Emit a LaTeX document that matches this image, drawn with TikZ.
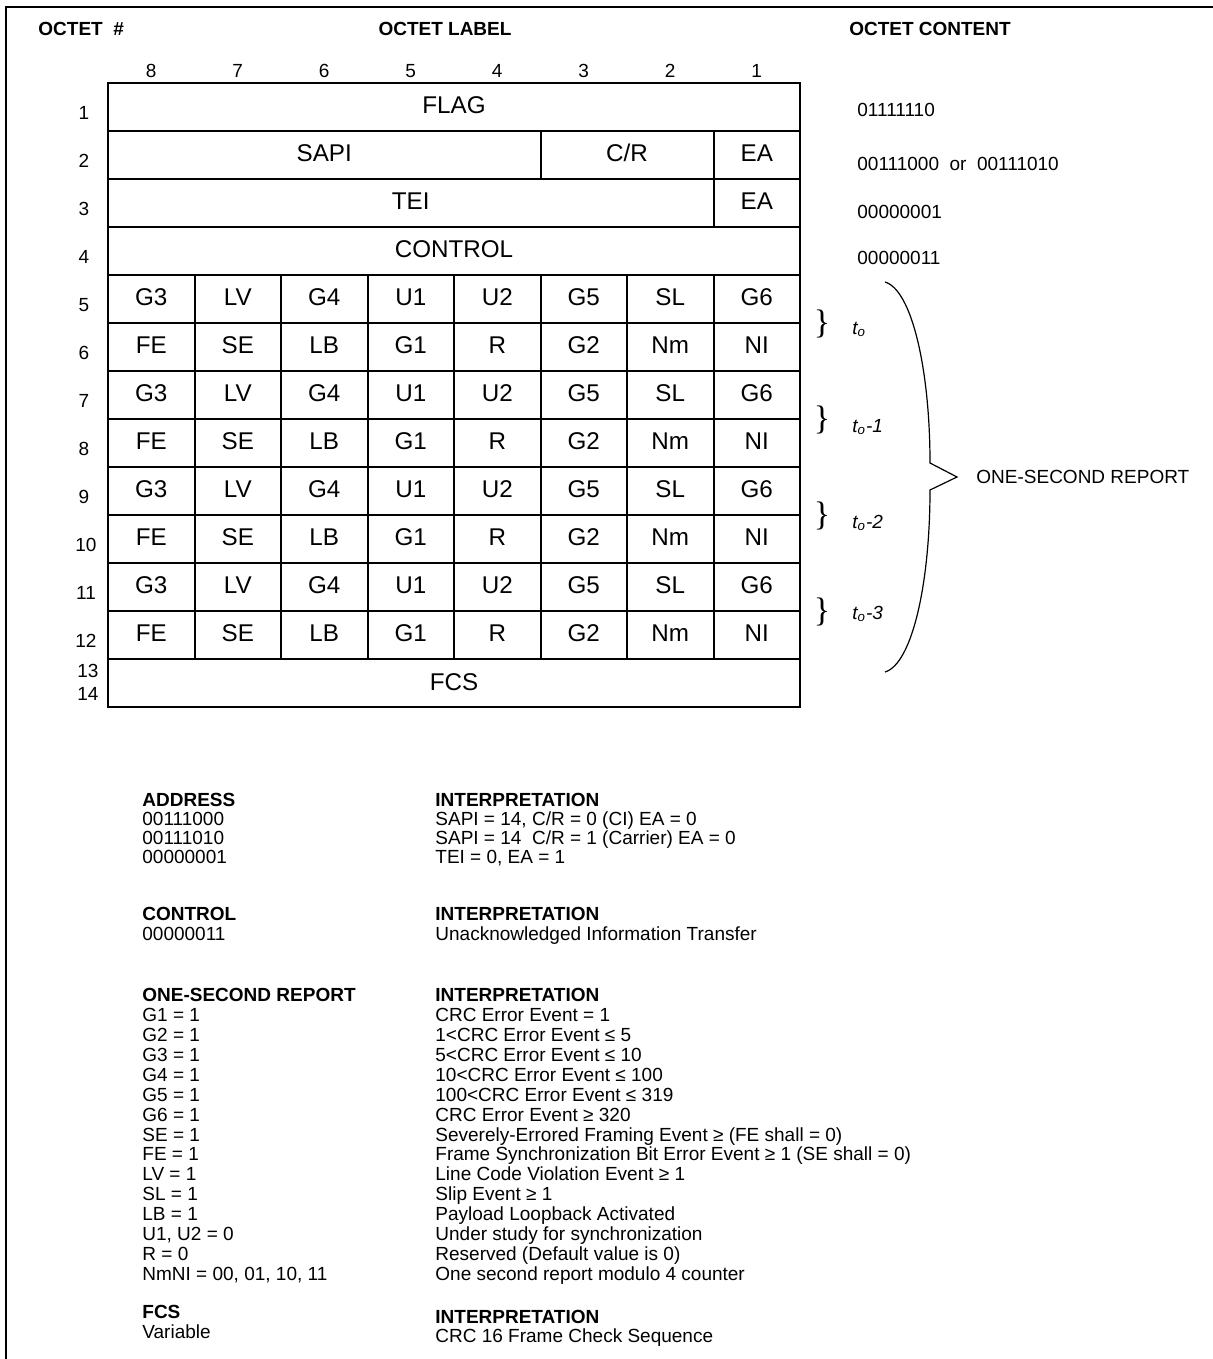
\documentclass[tikz,border=0pt]{standalone}
\usepackage{fontspec}
\setmainfont{Liberation Sans}
\newfontfamily\bracefont{Liberation Serif}
\newcommand\cellfnt{\fontsize{12.1}{14}\selectfont}
\newcommand\smallfnt{\fontsize{9.5}{11}\selectfont}
\begin{document}
\begin{tikzpicture}[x=0.5pt,y=-0.5pt,
  gridline/.style={line width=1pt, line cap=rect},
  frameline/.style={line width=1.4pt, line join=miter},
  cell/.style={font=\cellfnt, inner sep=0pt, text height=8.66pt, text depth=0pt},
  lbl/.style={font=\smallfnt, inner sep=0pt, text height=6.8pt, text depth=0pt},
  hdr/.style={lbl, font=\smallfnt\bfseries},
  tlab/.style={font=\smallfnt\itshape, inner sep=0pt, anchor=base west},
  brc/.style={font=\bracefont\fontsize{17}{17}\selectfont, inner sep=0pt},
  bigbrace/.style={line width=0.6pt}
]
\useasboundingbox (0,0) rectangle (1213,1359);

% outer frame (top and left only)
\draw[frameline] (6,1365) -- (6,7) -- (1220,7);

% headers
\node[hdr,anchor=west] (hnum) at (38,29) {OCTET\ \ \#};
\node[hdr] (hlabel) at (445,29) {OCTET LABEL};
\node[hdr] (hcontent) at (930,29) {OCTET CONTENT};

% bit numbers
\foreach \b [count=\i from 0] in {8,7,...,1}
  \node[lbl] (bit\b) at ({151.25+86.5*\i},71) {\b};

% grid
\draw[gridline] (108,83) rectangle (800,707);
\foreach \k in {1,...,12}
  \draw[gridline] (108,{83+48*\k}) -- (800,{83+48*\k});
\draw[gridline] (540.5,131) -- (540.5,179);
\draw[gridline] (713.5,131) -- (713.5,227);
\foreach \i in {1,...,7}
  \draw[gridline] ({108+86.5*\i},275) -- ({108+86.5*\i},659);

% row numbers
\foreach \r in {1,...,9}
  \node[lbl] (row\r) at (84,{83+(\r-0.5)*48+6}) {\r};
\foreach \r in {10,11,12}
  \node[lbl] (row\r) at (86,{83+(\r-0.5)*48+6}) {\r};
\node[lbl] (row13) at (88,671) {13};
\node[lbl] (row14) at (88,694) {14};

% cell texts
\node[cell] (flag) at (454,105) {FLAG};
\node[cell] (sapi) at (324.25,153) {SAPI};
\node[cell] (cr) at (627,153) {C/R};
\node[cell] (eaA) at (756.75,153) {EA};
\node[cell] (tei) at (410.75,201) {TEI};
\node[cell] (eaB) at (756.75,201) {EA};
\node[cell] (control) at (454,249) {CONTROL};
\foreach \r in {5,7,9,11}
  \foreach \t [count=\i from 0] in {G3,LV,G4,U1,U2,G5,SL,G6}
    \node[cell] (c\r x\i) at ({151.25+86.5*\i},{83+(\r-0.5)*48-2}) {\t};
\foreach \r in {6,8,10,12}
  \foreach \t [count=\i from 0] in {FE,SE,LB,G1,R,G2,Nm,NI}
    \node[cell] (c\r x\i) at ({151.25+86.5*\i},{83+(\r-0.5)*48-2}) {\t};
\node[cell] (fcs) at (454,682) {FCS};

% octet content
\node[lbl,anchor=west] (oc1) at (857,110) {01111110};
\node[lbl,anchor=west] (oc2) at (857,164) {00111000\ \ or\ \ 00111010};
\node[lbl,anchor=west] (oc3) at (857,212) {00000001};
\node[lbl,anchor=west] (oc4) at (857,258) {00000011};

% small braces and time labels
\node[brc] (brA) at (822,324) {\}};
\node[brc] (brB) at (822,420) {\}};
\node[brc] (brC) at (822,516) {\}};
\node[brc] (brD) at (822,612) {\}};
\node[tlab] (tA) at (852,334) {t\textsubscript{o}};
\node[tlab] (tB) at (852,432) {t\textsubscript{o}-1};
\node[tlab] (tC) at (852,528) {t\textsubscript{o}-2};
\node[tlab] (tD) at (852,619) {t\textsubscript{o}-3};

% big brace
\coordinate (bbTop) at (885,282);
\coordinate (bbTip) at (957,477);
\coordinate (bbBot) at (885,672);
\draw[bigbrace] (bbTop) .. controls (912,290) and (930,370) .. (930,463)
  -- (bbTip) -- (930,490) .. controls (930,584) and (912,664) .. (bbBot);
\node[lbl,anchor=west] (osr) at (976,477) {ONE-SECOND REPORT};

% address block
\node[hdr,anchor=west] (addrH) at (142,800) {ADDRESS};
\node[hdr,anchor=west] (addrI) at (435,800) {INTERPRETATION};
\node[lbl,anchor=west] (a1) at (142,819) {00111000};
\node[lbl,anchor=west] (a2) at (142,838) {00111010};
\node[lbl,anchor=west] (a3) at (142,857) {00000001};
\node[lbl,anchor=west] (i1) at (435,819) {SAPI = 14, C/R = 0 (CI) EA = 0};
\node[lbl,anchor=west] (i2) at (435,838) {SAPI = 14\ \ C/R = 1 (Carrier) EA = 0};
\node[lbl,anchor=west] (i3) at (435,857) {TEI = 0, EA = 1};

% control block
\node[hdr,anchor=west] (ctlH) at (142,914) {CONTROL};
\node[hdr,anchor=west] (ctlI) at (435,914) {INTERPRETATION};
\node[lbl,anchor=west] (ctl1) at (142,934) {00000011};
\node[lbl,anchor=west] (cti1) at (435,934) {Unacknowledged Information Transfer};

% one-second report block
\node[hdr,anchor=west] (osrH) at (142,995) {ONE-SECOND REPORT};
\node[hdr,anchor=west] (osrI) at (435,995) {INTERPRETATION};
\foreach \l/\k in {G1 = 1/0, G2 = 1/1, G3 = 1/2, G4 = 1/3, G5 = 1/4, G6 = 1/5,
  SE = 1/6, FE = 1/7, LV = 1/8, SL = 1/9, LB = 1/10, R = 0/12}
  \node[lbl,anchor=west] (L\k) at (142,{1015+19.87*\k}) {\l};
\node[lbl,anchor=west] (L11) at (142,{1015+19.87*11}) {U1, U2 = 0};
\node[lbl,anchor=west] (L13) at (142,{1015+19.87*13}) {NmNI = 00, 01, 10, 11};
\node[lbl,anchor=west] (R0) at (435,{1015+19.87*0}) {CRC Error Event = 1};
\node[lbl,anchor=west] (R1) at (435,{1015+19.87*1}) {1<CRC Error Event ≤ 5};
\node[lbl,anchor=west] (R2) at (435,{1015+19.87*2}) {5<CRC Error Event ≤ 10};
\node[lbl,anchor=west] (R3) at (435,{1015+19.87*3}) {10<CRC Error Event ≤ 100};
\node[lbl,anchor=west] (R4) at (435,{1015+19.87*4}) {100<CRC Error Event ≤ 319};
\node[lbl,anchor=west] (R5) at (435,{1015+19.87*5}) {CRC Error Event ≥ 320};
\node[lbl,anchor=west] (R6) at (435,{1015+19.87*6}) {Severely-Errored Framing Event ≥ (FE shall = 0)};
\node[lbl,anchor=west] (R7) at (435,{1015+19.87*7}) {Frame Synchronization Bit Error Event ≥ 1 (SE shall = 0)};
\node[lbl,anchor=west] (R8) at (435,{1015+19.87*8}) {Line Code Violation Event ≥ 1};
\node[lbl,anchor=west] (R9) at (435,{1015+19.87*9}) {Slip Event ≥ 1};
\node[lbl,anchor=west] (R10) at (435,{1015+19.87*10}) {Payload Loopback Activated};
\node[lbl,anchor=west] (R11) at (435,{1015+19.87*11}) {Under study for synchronization};
\node[lbl,anchor=west] (R12) at (435,{1015+19.87*12}) {Reserved (Default value is 0)};
\node[lbl,anchor=west] (R13) at (435,{1015+19.87*13}) {One second report modulo 4 counter};

% FCS block
\node[hdr,anchor=west] (fcsH) at (142,1312) {FCS};
\node[lbl,anchor=west] (fcsV) at (142,1332) {Variable};
\node[hdr,anchor=west] (fcsI) at (435,1317) {INTERPRETATION};
\node[lbl,anchor=west] (fcsT) at (435,1336) {CRC 16 Frame Check Sequence};
\end{tikzpicture}
\end{document}
